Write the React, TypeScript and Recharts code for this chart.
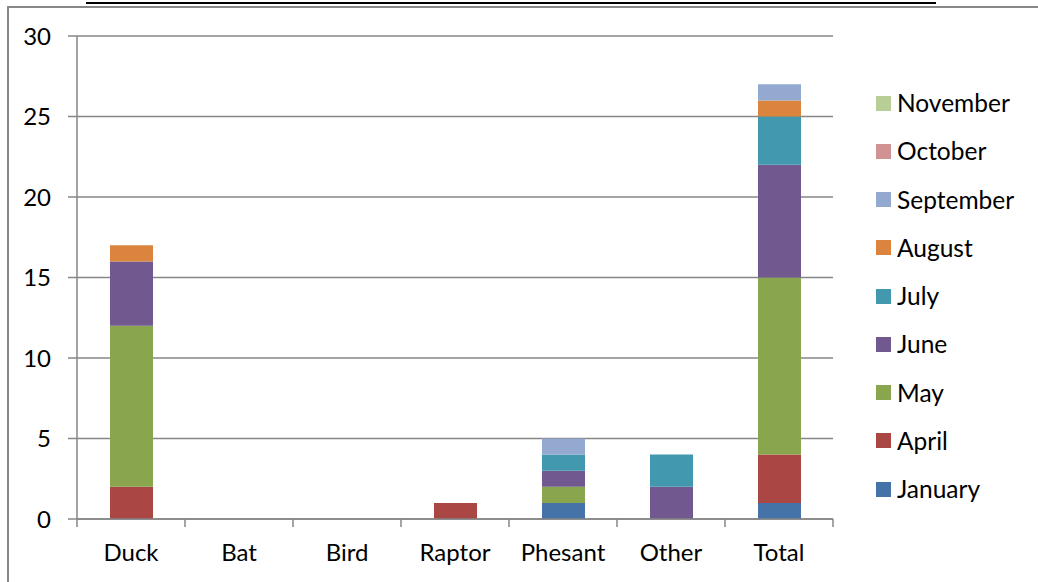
import React from 'react';
import { BarChart, Bar, XAxis, YAxis, CartesianGrid, Legend } from 'recharts';

const categories = ['Duck', 'Bat', 'Bird', 'Raptor', 'Phesant', 'Other', 'Total'];
const january = [0, 0, 0, 0, 1, 0, 1];
const april = [2, 0, 0, 1, 0, 0, 3];
const may = [10, 0, 0, 0, 1, 0, 11];
const june = [4, 0, 0, 0, 1, 2, 7];
const july = [0, 0, 0, 0, 1, 2, 3];
const august = [1, 0, 0, 0, 0, 0, 1];
const september = [0, 0, 0, 0, 1, 0, 1];
const october = [0, 0, 0, 0, 0, 0, 0];
const november = [0, 0, 0, 0, 0, 0, 0];
const yTicks = [0, 5, 10, 15, 20, 25, 30];

const seriesList = [
  { key: 'January', values: january, color: '#4572A7' },
  { key: 'April', values: april, color: '#AA4643' },
  { key: 'May', values: may, color: '#89A54E' },
  { key: 'June', values: june, color: '#71588F' },
  { key: 'July', values: july, color: '#4198AF' },
  { key: 'August', values: august, color: '#DB843D' },
  { key: 'September', values: september, color: '#93A9CF' },
  { key: 'October', values: october, color: '#D19392' },
  { key: 'November', values: november, color: '#B9CD96' },
];

const data = categories.map((name, i) => {
  const row: Record<string, any> = { name };
  seriesList.forEach((s) => {
    row[s.key] = s.values[i];
  });
  return row;
});

const FONT = 'Lato, "Open Sans", sans-serif';
const AXIS = '#868686';
const W = 1038;
const H = 582;
const LEFT = 77;
const RIGHT = 833;
const TOP = 36;
const BOTTOM = 519;
const BAND = (RIGHT - LEFT) / categories.length;

const XTick = (props: any) => {
  const { x, payload, index } = props;
  const half = BAND / 2;
  return (
    <g>
      <line x1={x - half} y1={BOTTOM} x2={x - half} y2={BOTTOM + 8} stroke={AXIS} strokeWidth={1.5} />
      {index === categories.length - 1 && (
        <line x1={x + half} y1={BOTTOM} x2={x + half} y2={BOTTOM + 8} stroke={AXIS} strokeWidth={1.5} />
      )}
      <text x={x} y={BOTTOM + 42} textAnchor="middle" fontSize={24} fontFamily={FONT} fill="#000">
        {payload.value}
      </text>
    </g>
  );
};

const LegendContent = () => {
  const items = [...seriesList].reverse();
  return (
    <div style={{ position: 'absolute', left: 876, top: 0, width: 162, height: H, pointerEvents: 'none' }}>
      {items.map((s, i) => {
        const cy = 103 + i * 48.25;
        return (
          <div key={s.key} style={{ position: 'absolute', left: 0, top: cy - 14, height: 28, display: 'flex', alignItems: 'center' }}>
            <div style={{ width: 15, height: 15, background: s.color, marginRight: 6 }} />
            <span style={{ fontFamily: FONT, fontSize: 24.5, color: '#000', whiteSpace: 'nowrap', lineHeight: '28px' }}>{s.key}</span>
          </div>
        );
      })}
    </div>
  );
};

export default function App() {
  return (
    <div style={{ position: 'absolute', left: 0, top: 0, width: W, height: H, background: '#fff', overflow: 'hidden' }}>
      <div style={{ position: 'absolute', left: 86, top: 2, width: 850, height: 2, background: '#000' }} />
      <div style={{ position: 'absolute', left: 7, top: 6, width: W - 7, height: 1.5, background: '#888' }} />
      <div style={{ position: 'absolute', left: 7, top: 6, width: 1.5, height: H - 6, background: '#888' }} />
      <div style={{ position: 'absolute', left: 0, top: 0 }}>
        <BarChart
          width={W}
          height={H}
          data={data}
          margin={{ top: TOP, right: W - RIGHT, bottom: H - BOTTOM - 40, left: 17 }}
        >
          <CartesianGrid vertical={false} stroke={AXIS} strokeWidth={1.5} />
          <XAxis
            dataKey="name"
            axisLine={{ stroke: AXIS, strokeWidth: 1.5 }}
            tickLine={false}
            tick={<XTick />}
            height={40}
            interval={0}
          />
          <YAxis
            domain={[0, 30]}
            ticks={yTicks}
            width={60}
            axisLine={{ stroke: AXIS, strokeWidth: 1.5 }}
            tickLine={{ stroke: AXIS, strokeWidth: 1.5 }}
            tickSize={9}
            tickMargin={17}
            tick={{ fontSize: 24, fontFamily: FONT, fill: '#000' }}
          />
          <Legend content={<LegendContent />} wrapperStyle={{ position: 'absolute', left: 0, top: 0, width: 0, height: 0 }} />
          {seriesList.map((s) => (
            <Bar key={s.key} dataKey={s.key} stackId="a" fill={s.color} barSize={43} isAnimationActive={false} />
          ))}
        </BarChart>
      </div>
    </div>
  );
}
